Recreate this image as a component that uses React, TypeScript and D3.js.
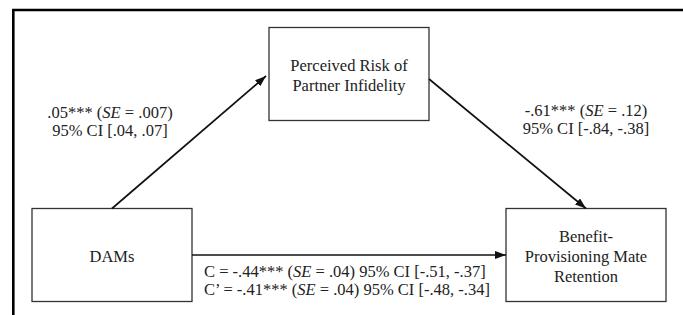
import React, { useRef, useEffect } from 'react';
import * as d3 from 'd3';

// nodes of the mediation model
const nodeIds = ['x', 'm', 'y'];
const nodeLevels = ['bottom', 'top', 'bottom'];
const nodeLabels = [
    ['DAMs'],
    ['Perceived Risk of', 'Partner Infidelity'],
    ['Benefit-', 'Provisioning Mate', 'Retention'],
];

// paths: a (x -> m), b (m -> y), c total, c' direct
const pathPrefixes = ['', '', 'C = ', 'C\u2019 = '];
const estimates = ['.05', '-.61', '-.44', '-.41'];
const stars = ['***', '***', '***', '***'];
const stdErrors = ['.007', '.12', '.04', '.04'];
const ciLower = ['.04', '-.84', '-.51', '-.48'];
const ciUpper = ['.07', '-.38', '-.37', '-.34'];

const edgeFrom = ['x', 'm', 'x'];
const edgeTo = ['m', 'y', 'y'];

export default function App() {
    const svgRef = useRef<SVGSVGElement | null>(null);

    useEffect(() => {
        const width = 683;
        const height = 315;
        const boxW = 160;
        const boxH = 93;
        const font = 'Liberation Serif, Tinos, DejaVu Serif, serif';
        const fontSize = 16.5;
        const ink = '#222';

        d3.select(svgRef.current).selectAll('*').remove();

        const svg = d3
            .select(svgRef.current)
            .attr('width', width)
            .attr('height', height)
            .style('font-family', font);

        const xScale = d3.scalePoint<string>().domain(nodeIds).range([112, 586]);
        const yScale = d3.scalePoint<string>().domain(['top', 'bottom']).range([74, 255]);

        const cx = (id: string) => xScale(id)!;
        const cy = (id: string) => yScale(nodeLevels[nodeIds.indexOf(id)])!;

        // outer frame (cut off at right and bottom)
        svg.append('path')
            .attr('d', `M13.3,${height + 5}V10H${width + 5}`)
            .attr('fill', 'none')
            .attr('stroke', '#000')
            .attr('stroke-width', 2.6);

        svg.append('defs')
            .append('marker')
            .attr('id', 'arrow')
            .attr('viewBox', '0 0 11 8')
            .attr('refX', 11)
            .attr('refY', 4)
            .attr('markerWidth', 11)
            .attr('markerHeight', 8)
            .attr('markerUnits', 'userSpaceOnUse')
            .attr('orient', 'auto')
            .append('path')
            .attr('d', 'M0,0L11,4L0,8Z')
            .attr('fill', '#111');

        // boxes
        nodeIds.forEach((id, i) => {
            svg.append('rect')
                .attr('x', cx(id) - boxW / 2)
                .attr('y', cy(id) - boxH / 2)
                .attr('width', boxW)
                .attr('height', boxH)
                .attr('fill', '#fff')
                .attr('stroke', '#333')
                .attr('stroke-width', 1.3);

            const lines = nodeLabels[i];
            lines.forEach((t, j) => {
                svg.append('text')
                    .attr('x', cx(id))
                    .attr('y', cy(id) + 7 + (j - (lines.length - 1) / 2) * 20)
                    .attr('text-anchor', 'middle')
                    .style('font-family', font)
                    .attr('font-size', fontSize)
                    .attr('fill', ink)
                    .text(t);
            });
        });

        // arrows
        const edgePoints = (k: number): [number, number][] => {
            const f = edgeFrom[k];
            const t = edgeTo[k];
            if (k === 0) {
                return [[cx(f), cy(f) - boxH / 2], [cx(t) - boxW / 2 - 3, cy(t) + 2]];
            }
            if (k === 1) {
                return [[cx(f) + boxW / 2, cy(f) + 5], [cx(t), cy(t) - boxH / 2]];
            }
            return [[cx(f) + boxW / 2, cy(f)], [cx(t) - boxW / 2, cy(t)]];
        };

        const line = d3.line();
        edgeFrom.forEach((_, k) => {
            svg.append('path')
                .attr('d', line(edgePoints(k)))
                .attr('fill', 'none')
                .attr('stroke', '#111')
                .attr('stroke-width', 1.7)
                .attr('marker-end', 'url(#arrow)');
        });

        // coefficient labels
        const addCoef = (
            k: number,
            x: number,
            y: number,
            anchor: string,
            withCi: boolean,
        ) => {
            const t = svg.append('text')
                .attr('x', x)
                .attr('y', y)
                .attr('text-anchor', anchor)
                .style('font-family', font)
                .attr('font-size', fontSize)
                .attr('fill', ink)
                .style('white-space', 'pre');
            t.append('tspan').text(`${pathPrefixes[k]}${estimates[k]}${stars[k]} (`);
            t.append('tspan').attr('font-style', 'italic').text('SE');
            t.append('tspan').text(
                ` = ${stdErrors[k]})` + (withCi ? ` 95% CI [${ciLower[k]}, ${ciUpper[k]}]` : ''),
            );
        };

        const addCi = (k: number, x: number, y: number) => {
            svg.append('text')
                .attr('x', x)
                .attr('y', y)
                .attr('text-anchor', 'middle')
                .style('font-family', font)
                .attr('font-size', fontSize)
                .attr('fill', ink)
                .text(`95% CI [${ciLower[k]}, ${ciUpper[k]}]`);
        };

        addCoef(0, cx('x') - 2, 118, 'middle', false);
        addCi(0, cx('x') - 2, 136);

        addCoef(1, cx('y'), 116, 'middle', false);
        addCi(1, cx('y'), 134);

        const cLeft = cx('x') + boxW / 2 + 12;
        addCoef(2, cLeft, cy('x') + 22, 'start', true);
        addCoef(3, cLeft, cy('x') + 40, 'start', true);
    }, []);

    return (
        <svg
            ref={svgRef}
            style={{ position: 'absolute', left: 0, top: 0, display: 'block' }}
        ></svg>
    );
}
